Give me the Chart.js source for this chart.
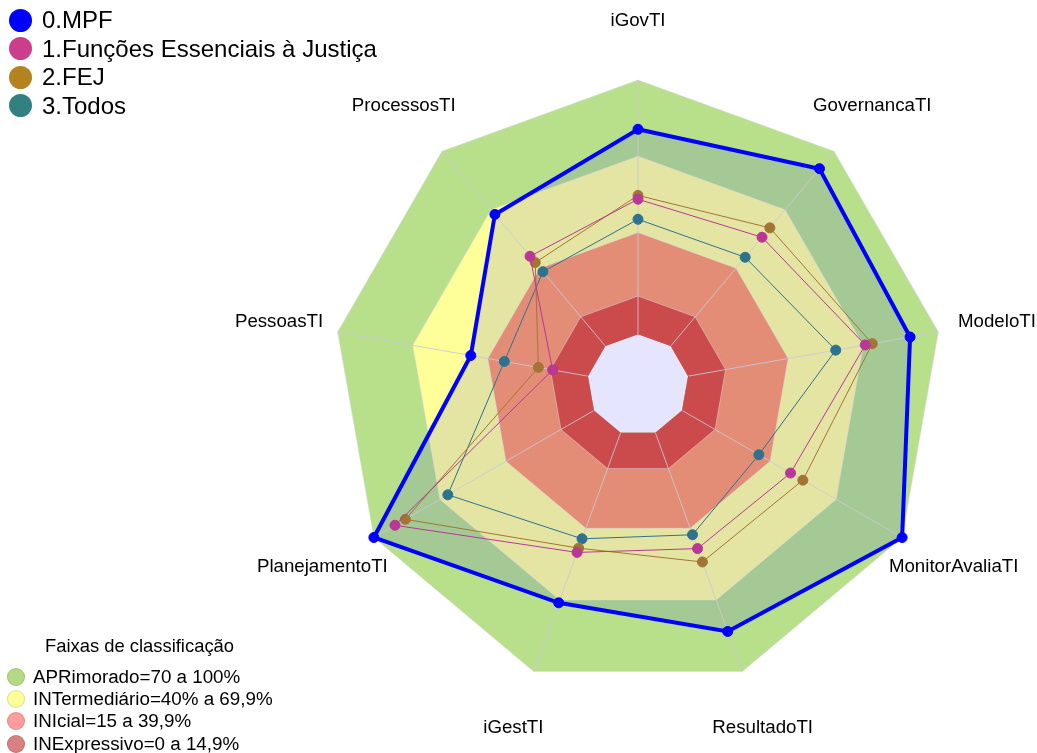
<!DOCTYPE html>
<html lang="pt">
<head>
  <meta charset="UTF-8" />
  <title>Radar iGovTI</title>
  <script src="https://cdn.jsdelivr.net/npm/chart.js"></script>
  <style>
    body {
      margin: 0;
      background: #fff;
      font-family: 'Liberation Sans', Arial, sans-serif;
      color: #000;
    }

    .wrap {
      position: relative;
      width: 1037px;
      height: 753px;
      overflow: hidden;
    }

    canvas {
      position: absolute;
      left: 0;
      top: 0;
    }

    .row {
      position: absolute;
      display: flex;
      align-items: center;
      white-space: nowrap;
    }

    .dot {
      display: inline-block;
      border-radius: 50%;
      box-sizing: border-box;
    }

    .series-row { font-size: 24px; height: 28px; }
    .series-row .dot { width: 23px; height: 23px; margin-right: 10px; }

    .band-title {
      position: absolute;
      left: 0;
      width: 279px;
      top: 635px;
      text-align: center;
      font-size: 18.4px;
    }
    .band-row { font-size: 18.8px; height: 22px; }
    .band-row .dot { width: 18px; height: 18px; margin-right: 8px; }
  </style>
</head>
<body>
  <div class="wrap" id="wrap">
    <canvas id="chart" width="1037" height="753"></canvas>
    <div class="band-title">Faixas de classificação</div>
  </div>

  <script>
    const labels = ['iGovTI', 'GovernancaTI', 'ModeloTI', 'MonitorAvaliaTI', 'ResultadoTI',
                    'iGestTI', 'PlanejamentoTI', 'PessoasTI', 'ProcessosTI'];

    const seriesNames = ['0.MPF', '1.Funções Essenciais à Justiça', '2.FEJ', '3.Todos'];
    const mpf     = [80.6, 91.1, 88.7, 100, 83.2, 71.2, 100, 46.8, 67.6];
    const funcoes = [53.1, 55.9, 70.8, 49.3, 48.5, 50.1, 90.4, 14.1, 46.1];
    const fej     = [54.6, 60.7, 73.6, 54.9, 54.1, 48.3, 85.7, 19.8, 42.9];
    const todos   = [45.2, 45.6, 59.0, 34.9, 42.7, 44.4, 66.4, 33.4, 38.2];

    // faixas de classificação (limite superior de cada faixa)
    const bandNames = ['APRimorado=70 a 100%', 'INTermediário=40% a 69,9%', 'INIcial=15 a 39,9%', 'INExpressivo=0 a 14,9%'];
    const bandLimits = [100, 70, 40, 15];
    const scaleMin = -20;

    const seriesLegendColors = ['#0000FF', '#CC3D8B', '#B4821E', '#328080'];
    // cores no gráfico (ficam sob o preenchimento azul do MPF)
    const seriesColors = ['#0000FF', '#B83797', '#A27535', '#2D738D'];
    const bandColors = ['#B8E08A', '#FFFF99', '#FD9E67', '#E35338'];
    const bandLegendColors = ['#B3DB85', '#FFFF99', '#FF9C9C', '#D98080'];

    // legendas em HTML
    const wrap = document.getElementById('wrap');
    seriesNames.forEach((name, i) => {
      const row = document.createElement('div');
      row.className = 'row series-row';
      row.style.left = '9px';
      row.style.top = (6 + 28.5 * i) + 'px';
      row.innerHTML = `<span class="dot" style="background:${seriesLegendColors[i]}"></span><span>${name}</span>`;
      wrap.appendChild(row);
    });
    bandNames.forEach((name, i) => {
      const row = document.createElement('div');
      row.className = 'row band-row';
      row.style.left = '7px';
      row.style.top = (666 + 22.2 * i) + 'px';
      row.innerHTML = `<span class="dot" style="background:${bandLegendColors[i]};border:1px solid rgba(0,0,0,0.12)"></span><span>${name}</span>`;
      wrap.appendChild(row);
    });

    function spokeColor(c) {
      const s = c.chart.scales.r;
      const R = s.drawingArea;
      const r0 = s.getDistanceFromCenterForValue(0);
      const g = c.chart.ctx.createRadialGradient(s.xCenter, s.yCenter, 0, s.xCenter, s.yCenter, R);
      g.addColorStop(0, 'rgba(0,0,0,0)');
      g.addColorStop(r0 / R, 'rgba(0,0,0,0)');
      g.addColorStop(Math.min(1, r0 / R + 0.002), 'rgba(200,200,215,0.85)');
      g.addColorStop(1, 'rgba(200,200,215,0.85)');
      return g;
    }

    const axisLabels = {
      id: 'axisLabels',
      afterDraw(chart) {
        const s = chart.scales.r;
        const ctx = chart.ctx;
        ctx.save();
        ctx.font = '18.7px "Liberation Sans", Arial, sans-serif';
        ctx.fillStyle = '#000';
        ctx.textAlign = 'center';
        ctx.textBaseline = 'middle';
        chart.data.labels.forEach((l, i) => {
          const p = s.getPointPosition(i, s.drawingArea * 1.195);
          ctx.fillText(l, p.x, p.y);
        });
        ctx.restore();
      }
    };

    const seriesData = [mpf, funcoes, fej, todos];
    const datasets = seriesData.map((d, i) => ({
      label: seriesNames[i],
      data: d,
      borderColor: seriesColors[i],
      backgroundColor: i === 0 ? 'rgba(0,0,255,0.1)' : seriesColors[i],
      pointBackgroundColor: seriesColors[i],
      pointBorderColor: seriesColors[i],
      borderWidth: i === 0 ? 4 : 1,
      pointRadius: 5,
      pointBorderWidth: 1,
      fill: i === 0 ? 'start' : false,
      clip: false
    }));
    bandLimits.slice().reverse().forEach((lim, k) => {
      const i = bandLimits.length - 1 - k;
      datasets.push({
        label: bandNames[i],
        data: labels.map(() => lim),
        backgroundColor: bandColors[i],
        borderWidth: 0,
        pointRadius: 0,
        pointHitRadius: 0,
        fill: { value: 0 },
        clip: false
      });
    });

    new Chart(document.getElementById('chart').getContext('2d'), {
      type: 'radar',
      data: { labels: labels, datasets: datasets },
      options: {
        responsive: false,
        animation: false,
        devicePixelRatio: 1,
        layout: { padding: { left: 333, right: 94, top: 80, bottom: 63 } },
        elements: { line: { tension: 0 } },
        plugins: {
          legend: { display: false },
          tooltip: { enabled: false },
          filler: { drawTime: 'beforeDraw' }
        },
        scales: {
          r: {
            min: scaleMin,
            max: 100,
            ticks: { display: false },
            afterBuildTicks: (s) => {
              s.ticks = [scaleMin, 0].concat(bandLimits.slice().reverse()).map(v => ({ value: v }));
            },
            pointLabels: { display: false },
            grid: {
              color: (c) => (c.tick && c.tick.value > 0) ? 'rgba(215,215,230,0.5)' : 'rgba(0,0,0,0)',
              lineWidth: 1
            },
            angleLines: { color: spokeColor, lineWidth: 1 }
          }
        }
      },
      plugins: [axisLabels]
    });
  </script>
</body>
</html>
